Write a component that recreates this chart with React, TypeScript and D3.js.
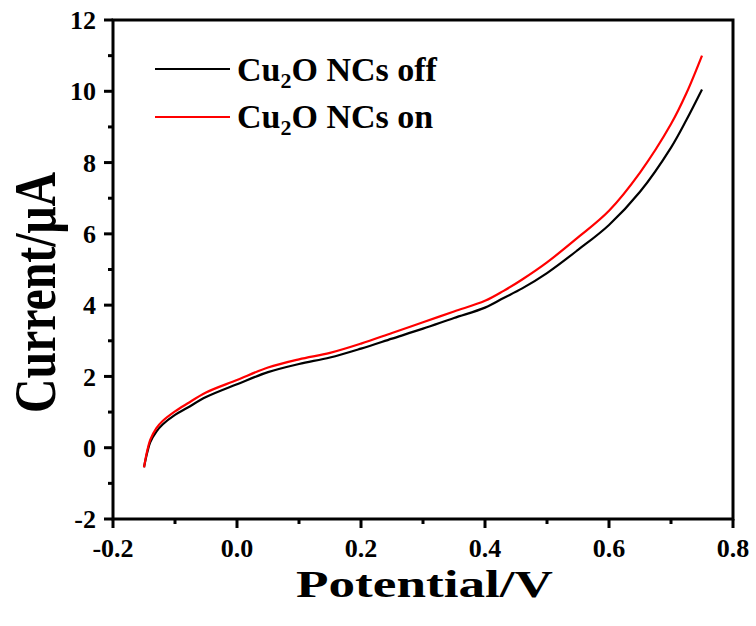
import React from "react";
import * as d3 from "d3";

const potential = [-0.15, -0.145, -0.14, -0.13, -0.12, -0.10, -0.08, -0.05, 0.0, 0.05, 0.10, 0.15, 0.20, 0.25, 0.30, 0.35, 0.40, 0.43, 0.46, 0.50, 0.55, 0.60, 0.65, 0.70, 0.725, 0.75];
const currentOff = [-0.55, -0.15, 0.15, 0.45, 0.65, 0.92, 1.12, 1.42, 1.78, 2.12, 2.35, 2.53, 2.78, 3.06, 3.34, 3.64, 3.93, 4.2, 4.47, 4.9, 5.55, 6.25, 7.18, 8.42, 9.2, 10.05];
const currentOn = [-0.55, -0.1, 0.22, 0.55, 0.75, 1.02, 1.24, 1.55, 1.9, 2.25, 2.48, 2.66, 2.92, 3.22, 3.52, 3.82, 4.12, 4.4, 4.72, 5.2, 5.9, 6.65, 7.72, 9.08, 9.95, 11.0];
const xTicks = [-0.2, 0.0, 0.2, 0.4, 0.6, 0.8];
const xMinor = [-0.1, 0.1, 0.3, 0.5, 0.7];
const yTicks = [-2, 0, 2, 4, 6, 8, 10, 12];
const yMinor = [-1, 1, 3, 5, 7, 9, 11];
const seriesNames = ["Cu₂O NCs off", "Cu₂O NCs on"];
const seriesColors = ["#000000", "#ff0000"];

const W = 756, H = 626;
const L = 113, R = 733, T = 20, B = 519;
const FONT = "'Liberation Serif', 'Times New Roman', serif";

export default function App() {
  const x = d3.scaleLinear().domain([-0.2, 0.8]).range([L, R]);
  const y = d3.scaleLinear().domain([-2, 12]).range([B, T]);
  const line = d3.line<number>().x((_, i) => x(potential[i])).y(d => y(d)).curve(d3.curveCatmullRom.alpha(0.5));
  const series = [currentOff, currentOn];
  return (
    <svg width={W} height={H} style={{ position: "absolute", left: 0, top: 0 }} fontFamily={FONT}>
      <rect width={W} height={H} fill="#fff" />
      {series.map((s, k) => (
        <path key={k} d={line(s) || ""} fill="none" stroke={seriesColors[k]} strokeWidth={2.2} />
      ))}
      <rect x={L} y={T} width={R - L} height={B - T} fill="none" stroke="#000" strokeWidth={3} />
      {xTicks.map(t => (
        <g key={"x" + t}>
          <line x1={x(t)} x2={x(t)} y1={B} y2={B + 9} stroke="#000" strokeWidth={3} />
          <text x={x(t)} y={557} textAnchor="middle" fontSize={26} fontWeight="bold">{t.toFixed(1)}</text>
        </g>
      ))}
      {xMinor.map(t => (
        <line key={"xm" + t} x1={x(t)} x2={x(t)} y1={B} y2={B + 5} stroke="#000" strokeWidth={3} />
      ))}
      {yTicks.map(t => (
        <g key={"y" + t}>
          <line x1={L} x2={L - 9} y1={y(t)} y2={y(t)} stroke="#000" strokeWidth={3} />
          <text x={96} y={y(t)} dy="0.35em" textAnchor="end" fontSize={26} fontWeight="bold">{t}</text>
        </g>
      ))}
      {yMinor.map(t => (
        <line key={"ym" + t} x1={L} x2={L - 5} y1={y(t)} y2={y(t)} stroke="#000" strokeWidth={3} />
      ))}
      {seriesNames.map((n, k) => (
        <g key={"lg" + k}>
          <line x1={155} x2={230} y1={69 + k * 48} y2={69 + k * 48} stroke={seriesColors[k]} strokeWidth={2.2} />
          <text x={237} y={81 + k * 47} fontSize={34} fontWeight="bold">
            Cu<tspan fontSize={22} dy={7}>2</tspan><tspan dy={-7}>{k === 0 ? "O NCs off" : "O NCs on"}</tspan>
          </text>
        </g>
      ))}
      <text x={424.5} y={597} textAnchor="middle" fontSize={38} fontWeight="bold" textLength={257} lengthAdjust="spacingAndGlyphs">Potential/V</text>
      <text transform={`translate(55,292.5) rotate(-90)`} textAnchor="middle" fontSize={60} fontWeight="bold" textLength={241} lengthAdjust="spacingAndGlyphs">Current/μA</text>
    </svg>
  );
}
